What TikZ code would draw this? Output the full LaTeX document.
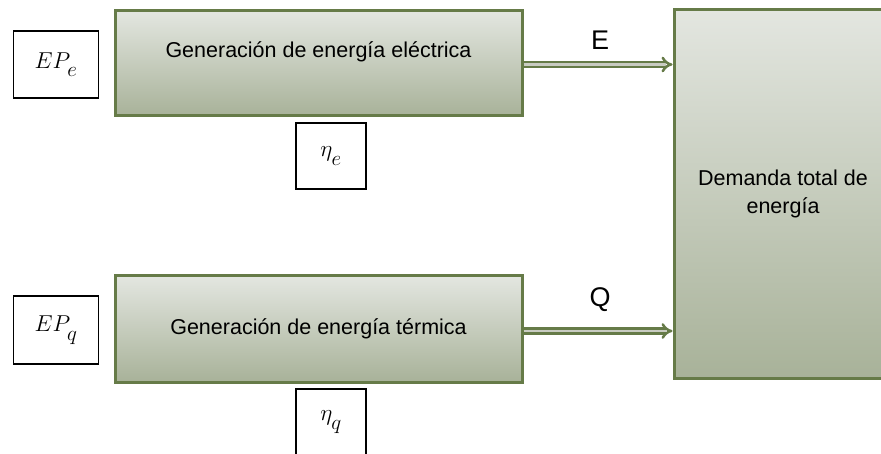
\RequirePackage{fix-cm}
\documentclass[tikz,border=0pt]{standalone}
\usepackage{fontspec}
\setmainfont{Liberation Sans}
\usetikzlibrary{arrows.meta}
\newcommand{\mysub}[1]{\lower5pt\hbox{\fontsize{21}{21}\selectfont$#1$}}
\definecolor{olive}{HTML}{667B48}
\definecolor{shtop}{HTML}{E3E6E0}
\definecolor{shbot}{HTML}{A8B299}
\definecolor{dbl}{HTML}{C9CCC2}
\tikzset{
  genbox/.style={draw=olive, line width=3pt, top color=shtop, bottom color=shbot, inner sep=0pt, font=\fontsize{21.5}{28}\selectfont},
  parbox/.style={draw=black, line width=1.5pt, fill=white, inner sep=0pt, font=\fontsize{23}{26}\selectfont},
  flow/.style={draw=olive, double=dbl, line width=2.5pt, double distance=2.5pt, -{Implies}},
  flowlbl/.style={font=\fontsize{27}{30}\selectfont}
}
\begin{document}
\begin{tikzpicture}[x=1pt,y=-1pt]
\useasboundingbox (0,0) rectangle (881,454);
\clip (0,0) rectangle (881,454);
\node[genbox, minimum width=407pt, text height=46.5pt, text depth=58.5pt] (gen1) at (318.5,63.5) {Generación de energía eléctrica};
\node[genbox, minimum width=407pt, minimum height=106pt] (gen2) at (318.5,329) {Generación de energía térmica};
\node[genbox, minimum width=218pt, minimum height=368pt, align=center] (dem) at (783,194) {Demanda total de\\energía};
\node[parbox, minimum width=85pt, minimum height=67pt] (epe) at (56,64.5) {$EP_{\mysub{e}}$};
\node[parbox, minimum width=85pt, minimum height=68pt] (epq) at (56,330) {$EP_{\mysub{q}}$};
\node[parbox, minimum width=70pt, minimum height=66pt] (etae) at (331,156) {$\eta_{\mysub{e}}$};
\node[parbox, minimum width=70pt, minimum height=66pt] (etaq) at (331,422) {$\eta_{\mysub{q}}$};
\draw[flow] ([yshift=-1pt]gen1.east) -- ([yshift=-1pt]gen1.east -| dem.west);
\draw[flow] ([yshift=-2pt]gen2.east) -- ([yshift=-2pt]gen2.east -| dem.west);
\node[flowlbl] (lE) at (600,40) {E};
\node[flowlbl] (lQ) at (600,300) {Q};
\end{tikzpicture}
\end{document}
